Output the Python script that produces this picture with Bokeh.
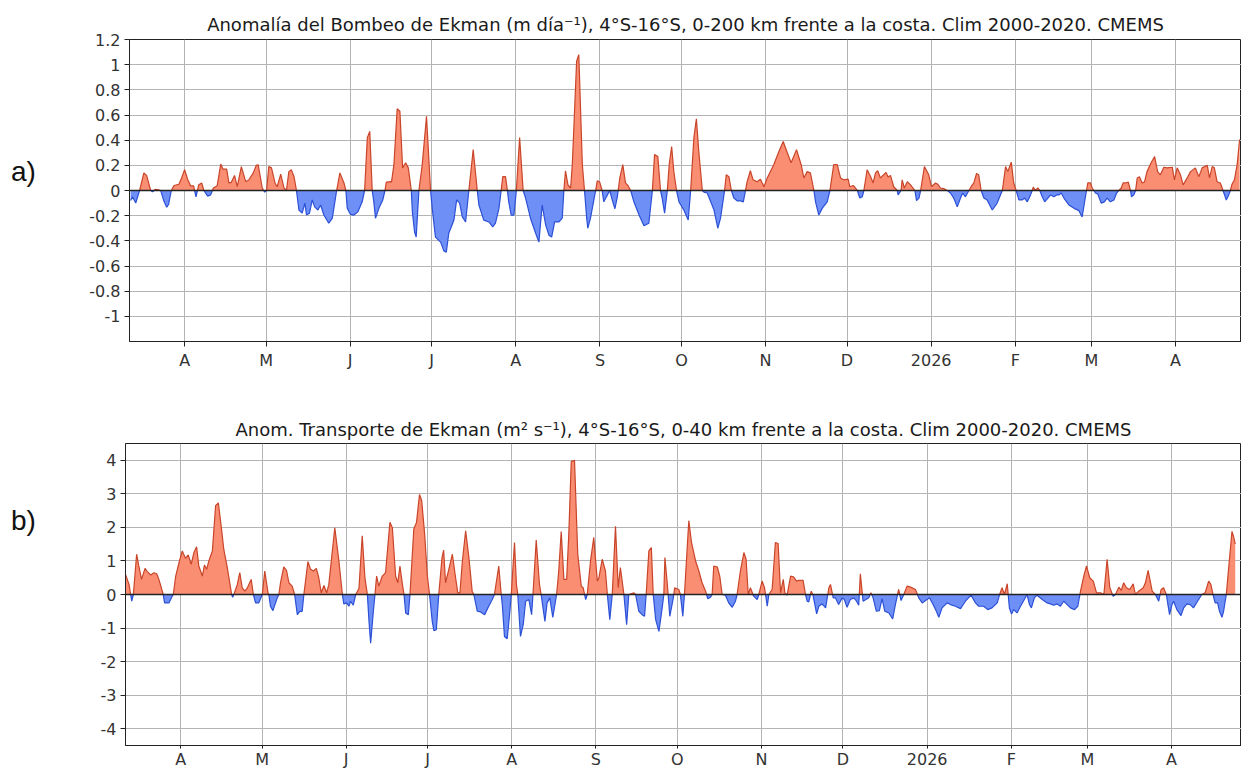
import numpy as np
import pandas as pd
from bokeh.plotting import figure
from bokeh.models import Range1d, FixedTicker, Span, NumeralTickFormatter, Div
from bokeh.layouts import column, row
from bokeh.embed import file_html
from bokeh.resources import INLINE

# ---------------- data ----------------
BASE = pd.Timestamp("2025-04-01")
month_starts = pd.date_range("2025-04-01", "2026-04-01", freq="MS")
month_labels = ["A", "M", "J", "J", "A", "S", "O", "N", "D", "2026", "F", "M", "A"]

title_a = "Anomalía del Bombeo de Ekman (m día\u207b\u00b9), 4°S-16°S, 0-200 km frente a la costa. Clim 2000-2020. CMEMS"
title_b = "Anom. Transporte de Ekman (m\u00b2 s\u207b\u00b9), 4°S-16°S, 0-40 km frente a la costa. Clim 2000-2020. CMEMS"
panel_tags = ["a)", "b)"]

# days since 2025-04-01, Ekman pumping anomaly (m/day)
day_a = [-19.9,-19.2,-18.0,-16.6,-15.0,-14.0,-12.5,-11.8,-10.7,-9.6,
         -8.8,-7.7,-6.6,-5.9,-4.9,-3.9,-2.1,-1.1,0,1.1,
         2.2,3.3,4.2,5.2,6.3,7.1,8.5,9.6,10.6,12.0,
         13.3,14.1,15.5,16.3,17.2,18.4,19.4,20.9,22.5,23.7,
         25.3,26.4,27.1,28.6,29.5,30.2,31.0,32.0,33.3,34.1,
         35.4,36.6,37.5,38.4,39.3,40.3,41.2,42.1,43.3,44.3,
         44.9,46.0,47.0,47.9,49.1,50.1,51.3,53.1,54.4,56.0,
         57.2,58.7,59.4,59.9,61.1,62.4,63.8,65.4,66.3,67.3,
         68.2,69.1,69.7,70.3,71.6,73.0,73.8,74.3,75.9,76.2,
         77.1,78.3,79.3,80.3,81.4,82.4,83.5,83.9,84.7,85.3,
         86.3,87.5,89.1,90.6,91.2,92.4,94.3,95.5,96.4,97.3,
         99.2,100.2,101.3,102.3,103.5,104.7,106.3,107.8,108.4,110.2,
         112.1,113.5,114.5,115.8,116.6,117.2,118.2,118.9,119.4,120.3,
         121.3,122.2,123.4,124.7,125.6,127.4,129.3,130.5,131.7,133.0,
         134.2,135.2,136.3,137.9,139.1,139.7,140.3,141.2,142.2,142.8,
         144.4,145.2,146.5,147.3,148.1,148.5,149.5,151.4,152.0,152.9,
         153.8,154.4,155.4,156.6,157.5,158.5,159.4,159.7,160.3,161.4,
         162.4,163.3,164.3,165.5,167.4,169.2,171.0,172.3,173.1,174.3,
         175.3,175.9,176.8,177.8,178.5,179.4,180.2,181.2,182.1,183.9,
         185.5,186.4,187.6,188.5,189.4,190.7,191.3,192.5,193.8,195.0,
         196.4,197.4,198.9,199.5,200.5,201.4,202.3,203.6,204.8,205.8,
         206.6,207.2,208.4,209.4,210.9,212.1,213.4,214.6,217.0,218.9,
         220.5,222.0,223.4,225.4,227.1,228.1,229.3,230.5,231.8,232.4,
         233.6,234.9,236.7,237.7,239.1,240.4,241.6,242.8,244.4,245.0,
         246.3,247.8,248.7,249.6,250.2,251.4,252.7,253.6,254.5,255.3,
         256.3,257.5,258.4,259.1,260.0,261.2,262.5,262.8,263.9,264.3,
         265.1,266.2,267.4,269.0,269.6,270.5,271.1,272.5,274.1,275.1,
         276.6,277.4,278.4,279.6,280.9,282.1,283.3,284.6,285.8,286.6,
         287.6,288.9,289.7,290.7,291.7,292.5,293.4,294.4,295.6,297.5,
         299.3,300.5,301.2,302.4,303.2,304.5,305.4,306.3,307.3,308.5,
         309.4,310.4,311.6,312.2,312.6,313.4,314.3,315.0,315.9,316.8,
         318.0,319.0,320.2,321.2,322.0,322.9,323.9,325.7,327.5,329.4,
         330.6,331.5,332.2,332.7,333.7,334.3,334.9,335.5,336.4,337.6,
         338.8,339.8,341.0,342.3,343.3,344.1,345.0,345.7,346.6,347.6,
         348.4,348.8,349.6,350.3,350.9,351.7,352.7,353.6,354.5,356.0,
         357.3,358.4,359.4,360.7,361.9,363.8,364.6,365.6,366.8,367.8,
         369.3,370.5,372.3,373.6,374.8,376.7,377.5,378.5,379.3,380.3,
         381.5,382.5,383.7,384.6,385.2,385.8,386.7,387.7,388.6]
val_a = [-0.08,-0.05,-0.10,0,0.14,0.12,0,-0.01,0.01,0.005,
         0,-0.08,-0.133,-0.11,0,0.04,0.05,0.10,0.165,0.09,
         0.037,0.037,-0.05,0.045,0.06,0,-0.045,-0.035,0.02,0.037,
         0.21,0.17,0.17,0.06,0.065,0.12,0.03,0.19,0.07,0.085,
         0.14,0.20,0.205,0.02,-0.013,0,0.19,0.18,0.06,0.03,
         0.13,0.02,0,0.15,0.165,0.11,0,-0.155,-0.18,-0.10,
         -0.195,-0.18,-0.075,-0.13,-0.155,-0.115,-0.195,-0.26,-0.22,0,
         0.14,0.06,0,-0.14,-0.19,-0.195,-0.17,-0.09,0,0.42,
         0.47,0,-0.09,-0.22,-0.14,-0.075,0,0.067,0.07,0.067,
         0.205,0.65,0.63,0.18,0.22,0.18,0,-0.17,-0.33,-0.37,
         0,0.20,0.59,0,-0.14,-0.37,-0.41,-0.48,-0.49,-0.34,
         -0.235,-0.075,-0.10,-0.21,-0.25,0,0.325,0,-0.115,-0.235,
         -0.25,-0.29,-0.26,-0.14,0,0.11,0.11,0,-0.09,-0.195,
         -0.195,0,0.42,0,-0.06,-0.22,-0.34,-0.41,-0.115,-0.275,
         -0.355,-0.37,-0.25,-0.25,-0.22,0,0.157,0.045,0.02,0.205,
         1.03,1.08,0.205,0,-0.22,-0.30,-0.22,0,0.077,0.067,
         0,-0.09,-0.05,0,-0.075,-0.145,-0.05,0,0.10,0.205,
         0.06,0.04,0,-0.09,-0.195,-0.28,-0.26,0,0.285,0.27,
         0,-0.06,-0.18,0,0.205,0.35,0.15,0,-0.09,-0.155,
         -0.235,0,0.42,0.57,0.31,0,-0.013,-0.02,-0.09,-0.155,
         -0.30,-0.22,0,0.125,0.11,0,-0.06,-0.083,-0.083,-0.09,
         0,0.07,0.157,0.085,0.07,0.09,0.03,0.10,0.205,0.31,
         0.39,0.30,0.22,0.325,0.205,0.10,0.15,0.14,0,-0.09,
         -0.195,-0.14,-0.09,0,0.205,0.205,0.10,0.085,0.09,0.03,
         0.04,0,-0.06,-0.05,0,0.165,0.11,0.06,0.14,0.157,
         0.10,0.125,0.144,0.107,0.12,0.03,0,-0.035,0,0.085,
         0.02,0.07,0.045,0,-0.08,-0.06,0,0.19,0.125,0.03,
         0.06,0.05,0.02,0.015,0,-0.02,-0.06,-0.13,-0.06,-0.02,
         -0.05,0,0.03,0.06,0.135,0.125,0,-0.06,-0.075,-0.155,
         -0.10,-0.035,0,0.19,0.15,0.225,0.06,0,-0.075,-0.075,
         -0.06,-0.09,-0.035,0,0.027,0,0.02,0,-0.05,-0.09,
         -0.06,-0.035,-0.05,-0.035,-0.035,-0.02,-0.06,-0.115,-0.14,-0.16,
         -0.21,-0.09,0,0.06,0.06,0.02,0,-0.02,-0.03,-0.10,
         -0.09,-0.06,-0.09,-0.075,-0.02,0,0.02,0.06,0.06,0.067,
         0,-0.05,-0.035,0,0.10,0.11,0.06,0.07,0.15,0.22,
         0.27,0.15,0.125,0.185,0.18,0.185,0.085,0.18,0.125,0.045,
         0.10,0.15,0.18,0.11,0.18,0.20,0.10,0.19,0.18,0.07,
         0.06,0,-0.075,-0.035,0,0.05,0.085,0.205,0.405]

# days since 2025-04-01, Ekman transport anomaly (m2/s)
day_b = [-20.3,-19.0,-18.0,-17.4,-16.2,-15.4,-14.4,-13.1,-12.3,-11.0,
         -9.8,-8.8,-8.0,-7.1,-6.4,-5.9,-4.3,-3.1,-2.7,-1.8,
         -0.6,0.6,1.8,2.8,3.9,4.9,5.9,6.7,8.0,8.8,
         9.6,10.4,11.7,12.9,13.9,15.0,15.9,17.2,18.8,19.2,
         19.6,20.9,21.8,22.7,23.7,24.6,26.0,26.8,27.6,28.8,
         30.1,31.0,32.2,32.5,33.1,34.0,35.6,36.2,36.8,38.0,
         39.0,39.9,41.1,42.0,43.0,43.9,44.8,45.4,46.9,47.9,
         48.9,50.0,50.9,51.8,52.8,53.8,54.6,55.5,56.8,58.3,
         59.6,60.1,61.1,62.0,62.6,63.6,64.5,65.7,66.9,67.9,
         68.8,69.4,70.0,71.0,71.6,72.2,73.0,74.3,75.5,77.1,
         78.0,79.2,80.0,80.8,81.7,82.3,82.9,83.9,84.5,85.9,
         86.9,88.0,88.8,89.9,90.9,91.7,92.7,93.3,94.2,95.1,
         96.3,96.9,97.6,98.8,100.1,101.3,102.1,102.9,103.8,105.0,
         106.2,107.4,108.0,109.3,110.5,112.0,113.5,114.8,115.6,117.2,
         118.1,118.5,119.3,120.3,121.3,121.8,123.0,123.7,124.2,125.2,
         126.2,127.1,128.3,129.3,129.8,131.0,132.2,132.8,134.2,135.0,
         136.0,137.1,138.5,139.3,140.2,141.2,142.2,143.0,143.9,145.1,
         146.3,147.6,148.3,149.2,149.8,151.0,152.2,153.5,154.1,155.3,
         156.5,157.2,158.1,159.0,160.2,161.2,162.0,163.3,164.3,165.1,
         167.0,167.6,168.8,170.0,170.9,171.5,172.5,173.4,174.1,175.0,
         176.2,177.4,178.0,178.4,179.3,180.2,181.5,182.0,183.5,184.1,
         185.0,185.6,187.2,188.2,189.7,190.9,192.1,193.4,194.2,195.2,
         195.8,196.4,197.7,198.6,199.5,200.7,201.9,203.2,204.4,205.0,
         206.2,207.5,208.3,209.1,209.9,211.1,212.4,213.0,214.2,215.1,
         216.1,216.7,217.9,219.1,220.1,221.0,222.0,222.6,223.4,224.7,
         225.7,226.9,227.7,229.3,230.2,230.8,231.4,232.3,232.9,234.3,
         235.1,236.3,237.6,238.8,239.4,240.4,241.2,242.4,243.7,244.5,
         245.5,246.7,248.0,249.0,249.8,250.4,251.4,253.5,254.3,255.1,
         256.3,257.4,258.4,259.4,260.9,262.3,263.3,264.5,265.4,266.4,
         267.6,268.9,270.7,271.9,273.2,274.4,275.9,277.2,278.4,279.3,
         280.5,282.4,283.6,285.4,287.3,289.1,291.2,292.8,294.0,295.8,
         297.3,298.9,300.8,301.7,302.6,303.5,304.5,305.3,306.1,306.9,
         308.1,309.4,310.8,311.8,312.7,313.4,314.5,315.5,317.4,319.2,
         320.4,321.6,322.9,324.1,325.3,326.6,327.8,329.3,330.5,331.5,
         332.7,333.7,334.9,336.2,337.4,338.9,340.1,341.3,342.3,343.5,
         344.4,345.6,346.5,347.4,348.4,349.6,350.9,351.7,352.9,354.6,
         355.4,356.4,357.9,359.1,360.3,361.2,362.1,363.1,364.3,365.2,
         365.8,367.0,368.5,369.5,370.7,371.9,373.1,374.6,376.2,377.4,
         378.7,379.5,380.3,381.1,382.0,382.7,383.6,384.2,385.2,386.3,
         387.3,387.9,388.5]
val_b = [0.6,0.3,-0.2,0,1.2,0.85,0.45,0.78,0.68,0.58,
         0.65,0.62,0.45,0.2,0,-0.25,-0.25,-0.05,0,0.55,
         0.95,1.3,1.08,1.18,0.9,1.25,1.42,0.85,0.55,0.88,
         0.75,1.0,1.3,2.65,2.73,2.0,1.35,0.8,0,-0.08,
         0,0.3,0.65,0.2,0.1,0.2,0.45,0,-0.25,-0.25,
         0,0.7,0.05,0,-0.35,-0.48,-0.1,0,0.35,0.82,
         0.72,0.35,0.25,0,-0.6,-0.5,-0.5,0,0.98,0.75,
         0.7,0.78,0.5,0.05,0.27,0.05,0.3,1.0,1.99,1.0,
         0,-0.28,-0.25,-0.35,-0.2,-0.32,0,0.18,1.75,0.5,
         0,-0.8,-1.45,-0.5,0,0.55,0.25,0.55,0.65,2.15,
         1.99,0.55,0.35,0.85,0.3,0,-0.55,-0.6,0,1.95,
         2.15,2.98,2.8,1.8,0.55,0,-0.8,-1.08,-1.05,0,
         1.1,1.32,0.35,0.75,1.2,0.5,0.05,0.05,1.0,1.9,
         1.1,0.1,0,-0.5,-0.52,-0.6,-0.35,-0.15,0,0.85,
         0,-0.3,-1.25,-1.32,-0.5,0,1.55,0.3,0,-1.25,
         -0.9,-0.2,-0.15,-0.6,0,1.62,0.3,0,-0.8,-0.25,
         -0.1,-0.68,0,0.7,1.88,0.45,0.45,1.8,3.96,4.0,
         1.2,0.25,0.2,-0.15,0,1.0,1.7,0.4,0.5,1.05,
         0.7,0,-0.75,0,2.03,0.2,0.8,0,-0.9,0,
         0.05,0,-0.5,-0.6,-0.65,0,1.3,1.4,0,-0.75,
         -1.1,-0.4,0,1.1,0.3,-0.65,-0.1,0.2,0.15,0,
         -0.65,0,2.2,1.55,1.0,0.7,0.35,0.1,-0.13,-0.08,
         0,0.85,0.82,0.55,0,-0.02,-0.25,-0.38,-0.2,0,
         0.7,1.25,1.05,0,0.2,-0.05,-0.15,0,0.4,0.2,
         -0.35,0,0.15,1.55,1.52,0.05,0.45,0.05,-0.02,0.55,
         0.53,0.4,0.42,0.42,0,-0.2,-0.22,0.1,0,-0.58,
         -0.35,-0.28,-0.4,0.2,0.3,-0.1,-0.1,-0.3,-0.1,-0.15,
         -0.38,-0.15,-0.1,-0.2,-0.32,0.62,-0.2,-0.1,0.05,-0.1,
         -0.5,-0.48,-0.12,-0.5,-0.55,-0.73,-0.3,0.15,-0.18,0,
         0.25,0.22,0.15,-0.1,-0.25,-0.18,-0.1,-0.3,-0.5,-0.68,
         -0.4,-0.25,-0.3,-0.35,-0.42,-0.2,-0.02,-0.25,-0.35,-0.35,
         -0.45,-0.4,-0.25,0,0.2,0,0.32,-0.4,-0.58,-0.45,
         -0.55,-0.35,-0.15,0,-0.3,-0.4,-0.1,-0.02,-0.15,-0.25,
         -0.28,-0.32,-0.28,-0.35,-0.2,-0.3,-0.4,-0.45,-0.35,0.1,
         0.55,0.85,0.5,0.4,0.05,0.05,0,1.05,0.2,-0.05,
         0,0.22,0.12,0.35,0.2,0.15,0.32,0,0.1,0.2,
         0.35,0.72,0.1,0,-0.2,0.15,0.2,0,-0.6,-0.3,
         -0.2,-0.45,-0.63,-0.4,-0.28,-0.3,-0.4,-0.2,0,0.05,
         0.4,0.3,0,-0.25,-0.25,-0.5,-0.68,-0.5,0,1.0,
         1.88,1.72,1.5]

yticks_a = [-1.0, -0.8, -0.6, -0.4, -0.2, 0.0, 0.2, 0.4, 0.6, 0.8, 1.0, 1.2]
yticks_b = [-4, -3, -2, -1, 0, 1, 2, 3, 4]

# ---------------- styling ----------------
POS_FILL, POS_LINE = "#f98e72", "#c9452a"
NEG_FILL, NEG_LINE = "#6e8ff6", "#2c50d6"
GRID = "#b4b4b4"
FONT = "DejaVu Sans"
TAG_W = 60
TOTAL_W = 1241
tick_days = [int((m - BASE).days) for m in month_starts]


def with_crossings(d, v):
    d = np.asarray(d, float)
    v = np.asarray(v, float)
    xs, ys = [], []
    for i in range(len(d)):
        if i > 0 and v[i - 1] * v[i] < 0:
            t = v[i - 1] / (v[i - 1] - v[i])
            xs.append(d[i - 1] + t * (d[i] - d[i - 1]))
            ys.append(0.0)
        xs.append(d[i])
        ys.append(v[i])
    return np.array(xs), np.array(ys)


def make_panel(days, vals, title, yticks, yfmt, yr, xr, height, top, bottom, left,
               tick_out, standoff, title_standoff):
    p = figure(width=TOTAL_W - TAG_W, height=height, x_range=Range1d(*xr), y_range=Range1d(*yr),
               output_backend="svg", toolbar_location=None,
               min_border_left=left, min_border_right=0,
               min_border_top=top, min_border_bottom=bottom)
    p.title.text = title
    p.title.align = "center"
    p.title.text_font = FONT
    p.title.text_font_size = "18px"
    p.title.text_font_style = "normal"
    p.title.text_color = "#1a1a1a"
    p.title.standoff = title_standoff

    xs, ys = with_crossings(days, vals)
    pos = np.maximum(ys, 0)
    neg = np.minimum(ys, 0)
    p.varea(x=xs, y1=np.zeros_like(xs), y2=pos, fill_color=POS_FILL)
    p.varea(x=xs, y1=np.zeros_like(xs), y2=neg, fill_color=NEG_FILL)
    p.line(xs, pos, line_color=POS_LINE, line_width=1.2)
    p.line(xs, neg, line_color=NEG_LINE, line_width=1.2)
    p.add_layout(Span(location=0, dimension="width", line_color="#222222", line_width=1.5))

    p.xaxis.ticker = FixedTicker(ticks=tick_days)
    p.xaxis.major_label_overrides = {t: l for t, l in zip(tick_days, month_labels)}
    p.yaxis.ticker = FixedTicker(ticks=yticks)
    p.yaxis.formatter = NumeralTickFormatter(format=yfmt)
    for ax in (p.xaxis, p.yaxis):
        ax.major_label_text_font = FONT
        ax.major_label_text_font_size = "16px"
        ax.major_label_text_color = "#333333"
        ax.axis_line_color = "#222222"
        ax.major_tick_line_color = "#222222"
        ax.major_tick_in = 0
        ax.minor_tick_line_color = None
    p.yaxis.major_tick_out = 5
    p.yaxis.major_label_standoff = 4
    p.xaxis.major_tick_out = tick_out
    p.xaxis.major_label_standoff = standoff
    p.xgrid.grid_line_color = GRID
    p.ygrid.grid_line_color = GRID
    p.xgrid.grid_line_width = 1
    p.ygrid.grid_line_width = 1
    p.outline_line_color = "#222222"
    p.outline_line_width = 1
    p.background_fill_color = "white"
    p.border_fill_color = "white"
    return p


def make_tag(text, height, top_px):
    html = ('<div style="margin-top:%dpx;margin-left:11px;font-family:\'Liberation Sans\',Arial,sans-serif;'
            'font-size:28px;line-height:28px;color:#111111;">%s</div>' % (top_px, text))
    return Div(text=html, width=TAG_W, height=height, margin=0)


H_A, H_B = 381, 391
pa = make_panel(day_a, val_a, title_a, yticks_a, "0.[0]", (-1.2, 1.2), (-20.3, 389.3),
                H_A, 39, 40, 129 - TAG_W, 5, 4, 10)
pb = make_panel(day_b, val_b, title_b, yticks_b, "0", (-4.5, 4.5), (-20.3, 390.8),
                H_B, 62, 27, 125 - TAG_W, 3, 1, 8)

layout = column(row(make_tag(panel_tags[0], H_A, 158), pa, spacing=0),
                row(make_tag(panel_tags[1], H_B, 126), pb, spacing=0),
                spacing=0)
open("out.html", "w").write(file_html(layout, INLINE))
